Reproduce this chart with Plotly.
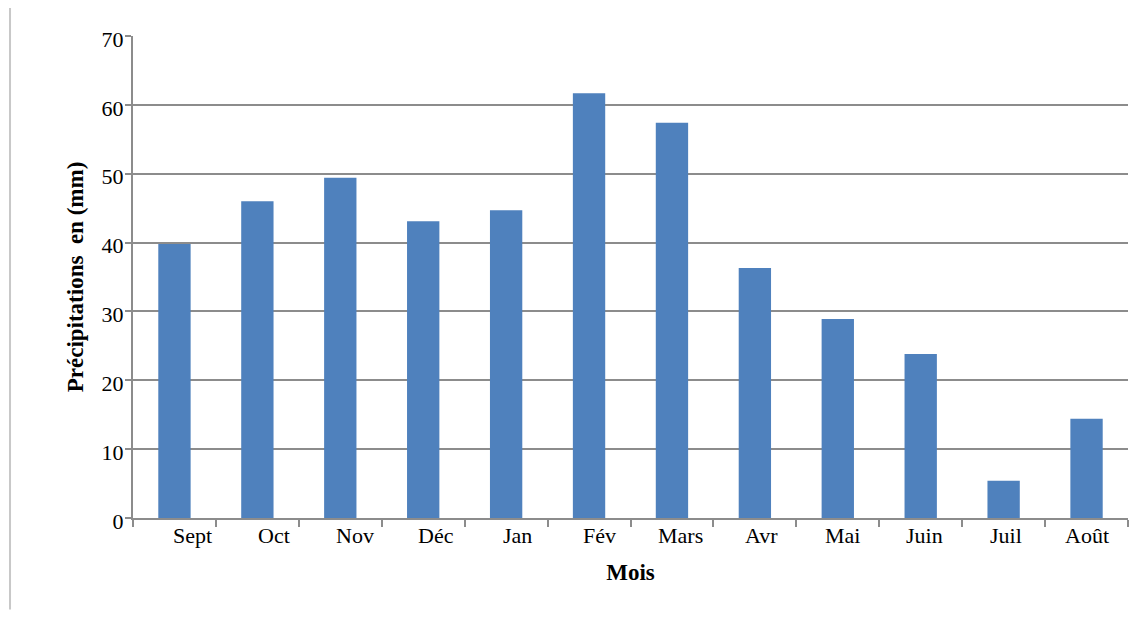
import plotly.graph_objects as go

months = ["Sept", "Oct", "Nov", "Déc", "Jan", "Fév", "Mars", "Avr", "Mai", "Juin", "Juil", "Août"]
precip = [39.8, 46.0, 49.4, 43.1, 44.7, 61.7, 57.4, 36.3, 28.9, 23.8, 5.4, 14.4]
y_ticks = [0, 10, 20, 30, 40, 50, 60, 70]

fig = go.Figure(go.Bar(x=months, y=precip, marker_color="#4F81BD", marker_line_width=0))

font_family = "Liberation Serif, Times New Roman, serif"

fig.update_layout(
    width=1140, height=603,
    margin=dict(l=125, r=20, t=28, b=93, autoexpand=False),
    paper_bgcolor="white", plot_bgcolor="white",
    bargap=0.61,
    showlegend=False,
    font=dict(family=font_family, size=22, color="black"),
    xaxis=dict(
        showline=True, linecolor="#8c8c8c", linewidth=2,
        ticks="outside", tickson="boundaries", ticklen=7, tickcolor="#8c8c8c", tickwidth=2,
        showticklabels=False,
        showgrid=False,
        title=dict(text="<b>Mois</b>", font=dict(size=23, family=font_family), standoff=45),
    ),
    yaxis=dict(
        range=[0, 70], tickvals=y_ticks,
        showline=True, linecolor="#8c8c8c", linewidth=2,
        ticks="outside", ticklen=6, tickcolor="#8c8c8c", tickwidth=2,
        ticklabelshift=3, ticklabelstandoff=-3,
        showgrid=True, gridcolor="#8c8c8c", gridwidth=1.5,
        zeroline=False,
        title=dict(text="<b>Précipitations\u00a0 en (mm)</b>", font=dict(size=23, family=font_family), standoff=12),
        tickfont=dict(size=22, family=font_family),
    ),
)

# category labels, slightly offset to the right of each bar as in the original
for i, m in enumerate(months):
    fig.add_annotation(x=m, xref="x", y=0, yref="paper", text=m, showarrow=False,
                       xanchor="center", yanchor="middle", yshift=-17, xshift=18 - 1.6 * i,
                       font=dict(size=22, family=font_family, color="black"))

fig.add_shape(type="line", xref="paper", yref="paper",
              x0=-0.1236, x1=-0.1236, y0=1.06, y1=-0.19,
              line=dict(color="#c8c8c8", width=2))

fig.write_html("out.html")
